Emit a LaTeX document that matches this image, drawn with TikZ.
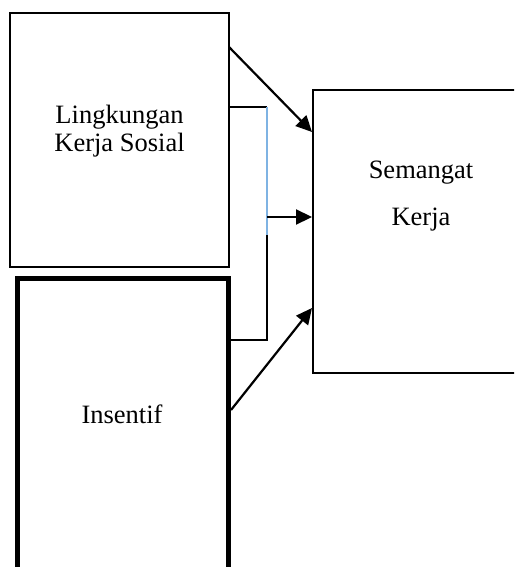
\documentclass[tikz,border=0pt]{standalone}
\usepackage{fontspec}
\setmainfont{Liberation Serif}
\usetikzlibrary{arrows.meta}
\definecolor{lblue}{HTML}{7FB3E3}
\begin{document}
\begin{tikzpicture}[x=1pt,y=-1pt,
  box/.style={draw,rectangle,inner sep=0pt,line width=2pt},
  lbl/.style={inner sep=0pt,align=center,anchor=base},
  arr/.style={line width=2.2pt,-{Triangle[length=16pt,width=15pt]}},
  thin/.style={line width=1.3pt}]
\useasboundingbox (0,0) rectangle (514,567);
\clip (0,0) rectangle (514,567);
\node[box,minimum width=219pt,minimum height=254pt] (lk) at (119.5,140) {};
\node[lbl,font=\fontsize{26.5}{28}\selectfont] (lkt) at (119.5,151) {Lingkungan\\Kerja Sosial};
\node[box,line width=5pt,minimum width=211.5pt,minimum height=300pt] (in) at (122.75,428.5) {};
\node[lbl,font=\fontsize{26.5}{28}\selectfont] (int) at (122,423) {Insentif};
\node[box,minimum width=220pt,minimum height=283pt] (sk) at (423,231.5) {};
\node[lbl,font=\fontsize{26.5}{47}\selectfont] (skt) at (421,225) {Semangat\\Kerja};
\coordinate (b1) at (229,107);
\coordinate (b2) at (267,107);
\coordinate (b3) at (267,235);
\coordinate (b4) at (267,340);
\coordinate (b5) at (229,340);
\coordinate (bm) at (267,217);
\draw[thin] (b1) -- (b2);
\draw[thin,lblue] (b2) -- (b3);
\draw[thin] (b3) -- (b4) -- (b5);
\draw[arr] (229,47) -- (sk.west |- 0,132);
\draw[arr] (bm) -- (sk.west |- bm);
\draw[arr] (231,410) -- (sk.west |- 0,308);
\end{tikzpicture}
\end{document}
